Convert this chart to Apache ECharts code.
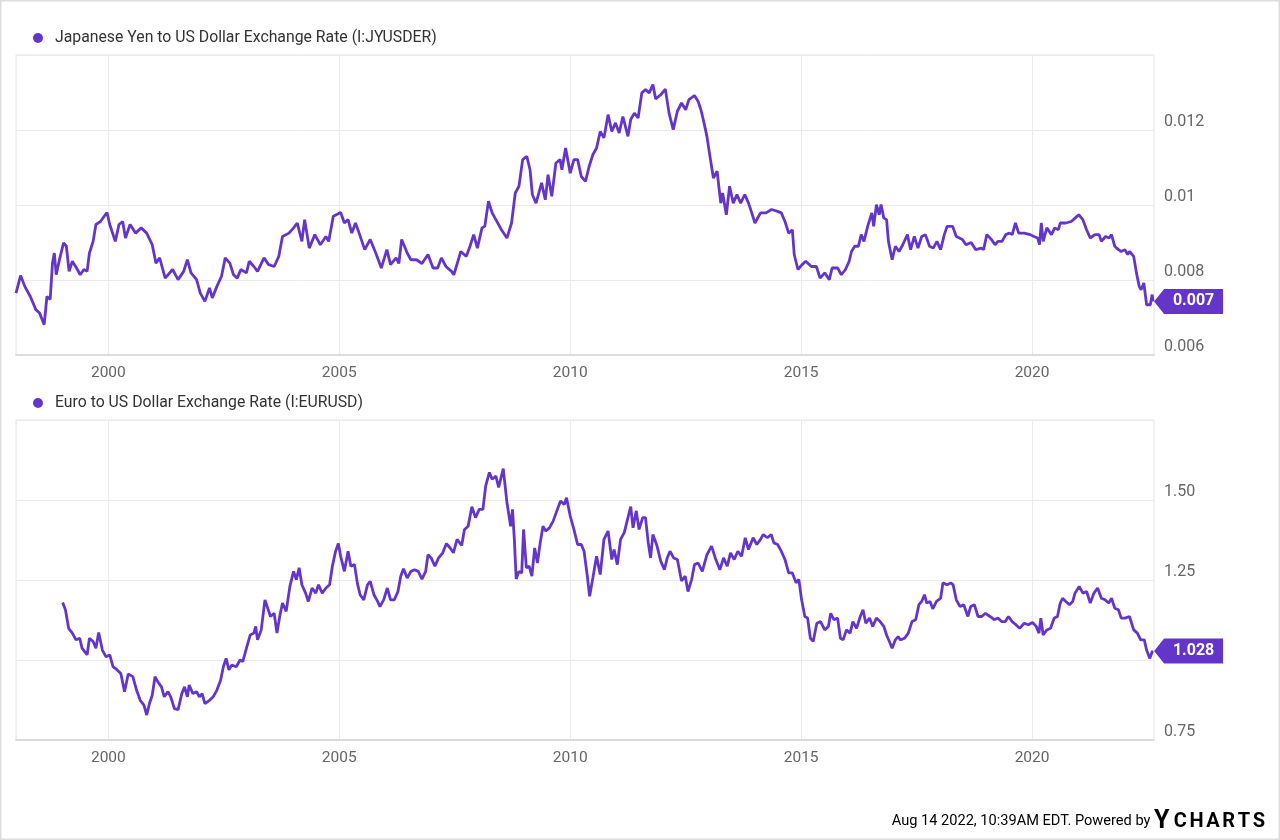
<!DOCTYPE html>
<html><head><meta charset="utf-8">
<script src="https://cdn.jsdelivr.net/npm/echarts@6/dist/echarts.min.js"></script>
<style>html,body{margin:0;padding:0;background:#fff}#c{width:1280px;height:840px}</style>
</head><body><div id="c"></div>
<script>
// ---- data (decimal years / values) ----
const jpyYears = [1998.0,1998.1,1998.19,1998.31,1998.43,1998.51,1998.61,1998.67,1998.74,1998.79,1998.83,1998.87,1998.95,1999.03,1999.09,1999.15,1999.22,1999.31,1999.39,1999.47,1999.54,1999.59,1999.67,1999.73,1999.83,1999.91,1999.97,2000.03,2000.15,2000.23,2000.31,2000.37,2000.47,2000.59,2000.71,2000.83,2000.95,2001.03,2001.11,2001.23,2001.39,2001.51,2001.63,2001.71,2001.79,2001.91,2001.99,2002.09,2002.19,2002.25,2002.35,2002.45,2002.53,2002.63,2002.71,2002.79,2002.87,2002.99,2003.05,2003.15,2003.23,2003.37,2003.47,2003.59,2003.69,2003.77,2003.91,2004.01,2004.09,2004.19,2004.25,2004.35,2004.47,2004.59,2004.71,2004.77,2004.87,2005.03,2005.11,2005.19,2005.27,2005.35,2005.43,2005.55,2005.67,2005.79,2005.91,2006.03,2006.11,2006.23,2006.29,2006.35,2006.47,2006.55,2006.67,2006.79,2006.92,2007.03,2007.13,2007.21,2007.31,2007.43,2007.48,2007.59,2007.63,2007.75,2007.83,2007.91,2007.99,2008.09,2008.15,2008.23,2008.31,2008.39,2008.51,2008.63,2008.73,2008.81,2008.89,2008.97,2009.06,2009.13,2009.18,2009.26,2009.38,2009.46,2009.52,2009.6,2009.69,2009.78,2009.82,2009.9,2010.0,2010.08,2010.16,2010.24,2010.33,2010.41,2010.49,2010.57,2010.65,2010.73,2010.82,2010.9,2010.98,2011.06,2011.14,2011.25,2011.31,2011.39,2011.47,2011.55,2011.63,2011.71,2011.79,2011.85,2011.96,2012.06,2012.14,2012.23,2012.32,2012.41,2012.5,2012.57,2012.69,2012.77,2012.83,2012.89,2012.96,2013.02,2013.1,2013.18,2013.26,2013.3,2013.38,2013.45,2013.53,2013.61,2013.69,2013.78,2013.86,2013.92,2014.0,2014.12,2014.24,2014.36,2014.49,2014.57,2014.65,2014.73,2014.81,2014.85,2014.93,2015.02,2015.1,2015.22,2015.33,2015.41,2015.51,2015.61,2015.67,2015.79,2015.87,2015.96,2016.04,2016.09,2016.16,2016.24,2016.3,2016.36,2016.44,2016.53,2016.57,2016.63,2016.69,2016.73,2016.79,2016.85,2016.89,2016.97,2017.04,2017.12,2017.2,2017.3,2017.37,2017.45,2017.53,2017.61,2017.69,2017.78,2017.86,2017.94,2018.02,2018.1,2018.16,2018.28,2018.36,2018.49,2018.57,2018.68,2018.78,2018.9,2018.95,2019.02,2019.12,2019.2,2019.26,2019.35,2019.43,2019.51,2019.57,2019.64,2019.71,2019.83,2019.96,2020.04,2020.12,2020.16,2020.2,2020.24,2020.32,2020.42,2020.49,2020.57,2020.61,2020.73,2020.85,2020.93,2021.01,2021.1,2021.18,2021.26,2021.36,2021.45,2021.5,2021.59,2021.67,2021.72,2021.79,2021.87,2021.93,2022.01,2022.07,2022.11,2022.2,2022.26,2022.32,2022.36,2022.42,2022.48,2022.56,2022.6,2022.62];
const jpyValues = [0.00765,0.00812,0.00783,0.00756,0.00721,0.00712,0.00681,0.00756,0.00748,0.00845,0.00872,0.00814,0.00859,0.00899,0.0089,0.00823,0.0085,0.00832,0.00814,0.00828,0.00823,0.00872,0.00903,0.00948,0.00956,0.0097,0.0098,0.00948,0.00903,0.00948,0.00956,0.00912,0.00948,0.00925,0.00939,0.00925,0.00894,0.00845,0.00859,0.00805,0.00828,0.00801,0.00823,0.00854,0.00819,0.00801,0.00765,0.00743,0.00779,0.00752,0.00783,0.0081,0.00859,0.00845,0.00814,0.00805,0.00828,0.00819,0.0085,0.00836,0.00823,0.00859,0.00841,0.00836,0.00863,0.00916,0.00925,0.00939,0.00952,0.00903,0.00961,0.00885,0.00921,0.00894,0.00916,0.00903,0.0097,0.0098,0.00952,0.00961,0.00925,0.00952,0.00925,0.00881,0.00908,0.00872,0.00832,0.00881,0.00841,0.00859,0.00844,0.00908,0.00872,0.00854,0.00854,0.00844,0.00868,0.00832,0.00832,0.00859,0.00836,0.00823,0.00814,0.00859,0.00876,0.00863,0.0089,0.00921,0.00885,0.00939,0.00943,0.0101,0.00979,0.00961,0.00934,0.00912,0.00952,0.01032,0.0105,0.01121,0.0113,0.01094,0.01028,0.01005,0.01059,0.01014,0.01081,0.01023,0.01112,0.01121,0.01094,0.01152,0.01085,0.01121,0.01121,0.01076,0.01063,0.01103,0.01134,0.01152,0.01196,0.01179,0.01241,0.01196,0.01219,0.01192,0.01236,0.01183,0.01228,0.01245,0.01232,0.01299,0.01308,0.01299,0.01321,0.01283,0.01294,0.01309,0.01245,0.01201,0.0125,0.01272,0.01254,0.01281,0.01292,0.01276,0.01254,0.01223,0.01183,0.01134,0.01072,0.0109,0.01005,0.01032,0.00974,0.0105,0.01005,0.01028,0.01005,0.01028,0.01005,0.00983,0.00952,0.00979,0.00979,0.00988,0.00983,0.00979,0.00956,0.00925,0.00934,0.00868,0.00828,0.00841,0.0085,0.00836,0.00836,0.00805,0.00819,0.00801,0.00832,0.00832,0.00814,0.00828,0.0085,0.00876,0.0089,0.0089,0.00921,0.00903,0.00943,0.00979,0.00943,0.01001,0.00974,0.01001,0.00965,0.00961,0.00903,0.00854,0.0089,0.00876,0.00894,0.00921,0.00881,0.00916,0.00885,0.00916,0.00921,0.0089,0.00885,0.00903,0.00881,0.00921,0.00943,0.00943,0.00916,0.00908,0.00894,0.009,0.00881,0.00885,0.00881,0.00921,0.00908,0.00894,0.00903,0.00903,0.00921,0.00925,0.00921,0.00952,0.00925,0.00925,0.00921,0.00916,0.00912,0.00894,0.00952,0.00903,0.00939,0.00921,0.00939,0.00934,0.00952,0.00952,0.00956,0.00965,0.00974,0.00961,0.00934,0.00912,0.00921,0.00921,0.00903,0.00916,0.00912,0.00921,0.0089,0.00881,0.00876,0.00881,0.00868,0.00876,0.00863,0.00819,0.00783,0.00774,0.00792,0.00734,0.00734,0.00761,0.00743];
const eurYears = [1999.01,1999.07,1999.14,1999.22,1999.3,1999.38,1999.43,1999.54,1999.59,1999.67,1999.73,1999.79,1999.87,1999.95,2000.03,2000.1,2000.19,2000.27,2000.35,2000.43,2000.53,2000.61,2000.69,2000.77,2000.83,2000.89,2000.95,2001.01,2001.07,2001.15,2001.21,2001.29,2001.35,2001.43,2001.51,2001.59,2001.65,2001.71,2001.75,2001.83,2001.91,2001.97,2002.03,2002.09,2002.19,2002.27,2002.35,2002.43,2002.49,2002.55,2002.61,2002.67,2002.77,2002.85,2002.91,2002.99,2003.07,2003.15,2003.19,2003.23,2003.31,2003.39,2003.43,2003.51,2003.59,2003.65,2003.71,2003.77,2003.85,2003.93,2004.01,2004.07,2004.13,2004.19,2004.27,2004.33,2004.41,2004.49,2004.55,2004.63,2004.71,2004.79,2004.85,2004.92,2004.98,2005.03,2005.11,2005.19,2005.25,2005.33,2005.39,2005.45,2005.53,2005.61,2005.67,2005.75,2005.83,2005.88,2005.96,2006.04,2006.11,2006.19,2006.27,2006.33,2006.39,2006.47,2006.55,2006.63,2006.71,2006.79,2006.87,2006.92,2006.99,2007.07,2007.15,2007.24,2007.32,2007.4,2007.47,2007.55,2007.65,2007.71,2007.79,2007.87,2007.95,2008.03,2008.11,2008.17,2008.25,2008.31,2008.39,2008.45,2008.55,2008.63,2008.71,2008.75,2008.79,2008.83,2008.89,2008.95,2008.99,2009.05,2009.11,2009.17,2009.23,2009.29,2009.35,2009.41,2009.47,2009.55,2009.63,2009.71,2009.79,2009.87,2009.92,2010.0,2010.08,2010.16,2010.24,2010.3,2010.37,2010.42,2010.49,2010.57,2010.65,2010.73,2010.82,2010.9,2010.95,2011.02,2011.09,2011.17,2011.25,2011.31,2011.36,2011.43,2011.49,2011.57,2011.63,2011.69,2011.74,2011.79,2011.88,2011.96,2012.04,2012.1,2012.16,2012.24,2012.32,2012.41,2012.49,2012.55,2012.63,2012.69,2012.77,2012.86,2012.96,2013.06,2013.14,2013.24,2013.32,2013.4,2013.47,2013.55,2013.63,2013.71,2013.79,2013.86,2013.96,2014.04,2014.12,2014.18,2014.27,2014.35,2014.41,2014.49,2014.57,2014.65,2014.73,2014.81,2014.89,2014.95,2015.01,2015.08,2015.14,2015.2,2015.26,2015.34,2015.42,2015.51,2015.59,2015.64,2015.71,2015.79,2015.85,2015.91,2015.98,2016.06,2016.12,2016.2,2016.28,2016.34,2016.4,2016.48,2016.55,2016.63,2016.71,2016.79,2016.85,2016.91,2016.97,2017.04,2017.1,2017.15,2017.24,2017.32,2017.4,2017.48,2017.55,2017.61,2017.67,2017.72,2017.79,2017.85,2017.93,2018.02,2018.07,2018.16,2018.24,2018.29,2018.36,2018.44,2018.52,2018.61,2018.67,2018.75,2018.83,2018.91,2018.99,2019.09,2019.18,2019.26,2019.34,2019.42,2019.49,2019.57,2019.65,2019.73,2019.83,2019.92,2020.01,2020.09,2020.15,2020.19,2020.24,2020.32,2020.4,2020.48,2020.55,2020.61,2020.66,2020.73,2020.81,2020.88,2020.93,2021.02,2021.1,2021.18,2021.26,2021.34,2021.42,2021.5,2021.58,2021.66,2021.72,2021.79,2021.87,2021.93,2022.01,2022.11,2022.2,2022.28,2022.35,2022.43,2022.48,2022.55,2022.6,2022.62];
const eurValues = [1.18,1.157,1.099,1.084,1.063,1.068,1.037,1.016,1.068,1.058,1.037,1.086,1.031,1.01,1.016,0.979,0.969,0.958,0.901,0.956,0.948,0.906,0.874,0.859,0.828,0.864,0.89,0.948,0.932,0.916,0.885,0.901,0.885,0.848,0.845,0.895,0.916,0.885,0.922,0.895,0.901,0.885,0.895,0.864,0.874,0.885,0.906,0.937,0.979,1.005,0.969,0.984,0.979,1.0,0.995,1.037,1.078,1.084,1.105,1.063,1.094,1.188,1.183,1.136,1.146,1.084,1.136,1.178,1.152,1.23,1.277,1.251,1.288,1.235,1.209,1.183,1.225,1.209,1.235,1.209,1.225,1.235,1.293,1.34,1.364,1.324,1.277,1.34,1.293,1.298,1.241,1.204,1.188,1.235,1.246,1.204,1.183,1.167,1.188,1.225,1.188,1.188,1.214,1.262,1.285,1.256,1.277,1.282,1.277,1.253,1.277,1.329,1.319,1.293,1.319,1.335,1.364,1.35,1.335,1.377,1.358,1.408,1.418,1.479,1.445,1.471,1.471,1.544,1.586,1.565,1.575,1.539,1.598,1.492,1.418,1.471,1.377,1.253,1.277,1.272,1.408,1.288,1.293,1.262,1.35,1.303,1.366,1.418,1.403,1.413,1.434,1.466,1.497,1.486,1.507,1.45,1.408,1.361,1.361,1.34,1.262,1.199,1.256,1.324,1.267,1.377,1.403,1.314,1.345,1.298,1.377,1.398,1.445,1.479,1.413,1.466,1.408,1.445,1.445,1.366,1.319,1.392,1.356,1.309,1.282,1.319,1.34,1.319,1.314,1.247,1.262,1.214,1.252,1.298,1.303,1.277,1.329,1.356,1.319,1.282,1.319,1.293,1.335,1.314,1.34,1.324,1.382,1.345,1.382,1.361,1.377,1.392,1.382,1.392,1.366,1.361,1.34,1.314,1.272,1.272,1.241,1.252,1.188,1.136,1.131,1.068,1.058,1.115,1.12,1.094,1.105,1.146,1.126,1.131,1.068,1.063,1.094,1.084,1.12,1.099,1.136,1.157,1.115,1.131,1.105,1.131,1.12,1.105,1.078,1.058,1.037,1.063,1.073,1.063,1.068,1.084,1.12,1.126,1.173,1.183,1.204,1.178,1.183,1.16,1.183,1.193,1.241,1.235,1.241,1.235,1.188,1.167,1.173,1.136,1.167,1.173,1.136,1.136,1.146,1.136,1.126,1.131,1.12,1.12,1.136,1.12,1.11,1.099,1.115,1.11,1.117,1.105,1.084,1.131,1.078,1.094,1.099,1.131,1.136,1.178,1.193,1.183,1.173,1.183,1.209,1.23,1.209,1.214,1.178,1.209,1.225,1.193,1.188,1.178,1.193,1.162,1.157,1.131,1.131,1.136,1.094,1.084,1.063,1.063,1.031,1.005,1.026,1.028];
const xTickYears = [2000, 2005, 2010, 2015, 2020];
const seriesNames = ['Japanese Yen to US Dollar Exchange Rate (I:JYUSDER)', 'Euro to US Dollar Exchange Rate (I:EURUSD)'];
const footerText = 'Aug 14 2022, 10:39AM EDT. Powered by ';
const logoLetters = ['C', 'H', 'A', 'R', 'T', 'S'];

// ---- styling ----
const PURPLE = '#6435c9';
const GRID = '#ebebeb';
const FONT = 'Roboto';

function pairs(xs, ys) { return xs.map((x, i) => [x, ys[i]]); }

function tag(lastX, lastY, txt) {
  return {
    symbol: 'path://M0,12.5 L10,0 L69,0 L69,25 L10,25 Z',
    symbolSize: [69, 25],
    symbolKeepAspect: false,
    symbolOffset: [35.5, 0],
    itemStyle: { color: PURPLE },
    label: { show: true, formatter: txt, color: '#fff', fontWeight: 'bold', fontSize: 16, fontFamily: FONT, offset: [5, 0] },
    data: [{ coord: [lastX, lastY] }],
    silent: true
  };
}

function xAxis(gi) {
  return {
    type: 'value', gridIndex: gi, min: 1998, max: 2022.64,
    axisLine: { show: true, lineStyle: { color: '#dcdcdc', width: 2 } },
    axisTick: { show: false, customValues: xTickYears },
    axisLabel: { customValues: xTickYears, color: '#666', fontSize: 15.5, fontFamily: FONT, margin: 10, formatter: v => String(v) },
    splitLine: { show: true, lineStyle: { color: GRID, width: 1 } }
  };
}

const jLast = jpyValues.length - 1, eLast = eurValues.length - 1;

const logoRich = {
  foot: { fontSize: 14.6, color: '#222', fontFamily: FONT, verticalAlign: 'middle' },
  ylogo: { fontSize: 25, fontWeight: 'bold', color: '#1ca3e0', fontFamily: FONT, verticalAlign: 'middle', padding: [0, 3, 0, 0] },
  clogo: { fontSize: 20, fontWeight: 'bold', color: '#1e1e1e', fontFamily: FONT, verticalAlign: 'middle', padding: [0, 1.3, 0, 1.3] }
};
const logoText = '{foot|' + footerText + '}{ylogo|Y}' + logoLetters.map(l => '{clogo|' + l + '}').join('');

const option = {
  animation: false,
  backgroundColor: '#fff',
  grid: [
    { left: 16, right: 126, top: 55, height: 300, show: true, borderColor: '#e4e4e4', borderWidth: 1, backgroundColor: 'transparent' },
    { left: 16, right: 126, top: 420, height: 320, show: true, borderColor: '#e4e4e4', borderWidth: 1, backgroundColor: 'transparent' }
  ],
  legend: [
    { data: [seriesNames[0]], left: 28, top: 25, icon: 'circle', itemWidth: 24, itemHeight: 10, itemGap: 0,
      textStyle: { color: '#333', fontSize: 15.8, fontFamily: FONT }, selectedMode: false },
    { data: [seriesNames[1]], left: 28, top: 390, icon: 'circle', itemWidth: 24, itemHeight: 10, itemGap: 0,
      textStyle: { color: '#333', fontSize: 15.8, fontFamily: FONT }, selectedMode: false }
  ],
  xAxis: [xAxis(0), xAxis(1)],
  yAxis: [
    { type: 'value', gridIndex: 0, position: 'right', min: 0.006, max: 0.014, interval: 0.002,
      axisLine: { show: false }, axisTick: { show: false },
      axisLabel: { color: '#666', fontSize: 16, fontFamily: FONT, margin: 10, verticalAlign: 'bottom', showMaxLabel: false,
        formatter: v => (v > 0.0135 ? '' : String(+v.toFixed(3))) },
      splitLine: { lineStyle: { color: GRID } } },
    { type: 'value', gridIndex: 1, position: 'right', min: 0.75, max: 1.75, interval: 0.25,
      axisLine: { show: false }, axisTick: { show: false },
      axisLabel: { color: '#666', fontSize: 16, fontFamily: FONT, margin: 10, verticalAlign: 'bottom', showMaxLabel: false,
        formatter: v => (v > 1.7 ? '' : v.toFixed(2)) },
      splitLine: { lineStyle: { color: GRID } } }
  ],
  series: [
    { name: seriesNames[0], type: 'line', xAxisIndex: 0, yAxisIndex: 0, showSymbol: false, symbol: 'none',
      color: PURPLE, lineStyle: { color: PURPLE, width: 2.8 }, data: pairs(jpyYears, jpyValues),
      markPoint: tag(jpyYears[jLast], jpyValues[jLast], jpyValues[jLast].toFixed(3)) },
    { name: seriesNames[1], type: 'line', xAxisIndex: 1, yAxisIndex: 1, showSymbol: false, symbol: 'none',
      color: PURPLE, lineStyle: { color: PURPLE, width: 2.8 }, data: pairs(eurYears, eurValues),
      markPoint: tag(eurYears[eLast], eurValues[eLast], eurValues[eLast].toFixed(3)) }
  ],
  graphic: [
    { type: 'rect', silent: true, shape: { x: 0.5, y: 0.5, width: 1279, height: 839 },
      style: { fill: 'none', stroke: '#dddddd', lineWidth: 2 } },
    { type: 'text', silent: true, right: 15, top: 809,
      style: { text: logoText, rich: logoRich } }
  ]
};

const chart = echarts.init(document.getElementById('c'), null, { renderer: 'canvas' });
chart.setOption(option);
</script>
</body></html>
